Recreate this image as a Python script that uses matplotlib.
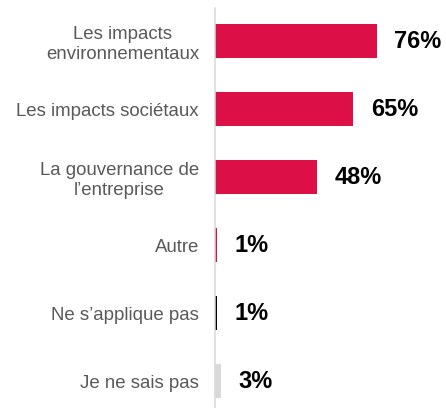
import matplotlib
matplotlib.use("Agg")
import matplotlib.pyplot as plt

categories = [
    "Les impacts\nenvironnementaux",
    "Les impacts sociétaux",
    "La gouvernance de\nl\u2019entreprise",
    "Autre",
    "Ne s\u2019applique pas",
    "Je ne sais pas",
]
values = [76, 65, 48, 1, 1, 3]
bar_colors = ["#DC1046", "#DC1046", "#DC1046", "#DC1046", "#000000", "#D9D9D9"]

plt.rcParams["font.family"] = ["Liberation Sans", "DejaVu Sans"]

W, H = 446, 408
fig = plt.figure(figsize=(W / 100, H / 100), dpi=100)
# axis line at x=215 px, 100% = 213 px; axis spans y 8..408 px
ax = fig.add_axes([215 / W, 0, 213 / W, 400 / H])

y = list(range(len(categories)))
ax.barh(y, values, height=0.5, color=bar_colors, left=0)

for yi, v in zip(y, values):
    ax.annotate(f"{v}%", xy=(v, yi), xytext=(12.5, 0), textcoords="offset points",
                ha="left", va="center", fontsize=17, fontweight="bold", color="black")

ax.set_xlim(0, 100)
ax.set_ylim(5 + 27 / 68, -33 / 68)
ax.set_yticks(y)
ax.set_yticklabels(categories, fontsize=13.4, color="#595959", linespacing=1.2,
                   multialignment="center")
ax.tick_params(axis="y", length=0, pad=11.5)
ax.set_xticks([])

for side in ["top", "right", "bottom"]:
    ax.spines[side].set_visible(False)
ax.spines["left"].set_color("#D9D9D9")
ax.spines["left"].set_linewidth(1.1)

fig.savefig("out.png", dpi=100)
